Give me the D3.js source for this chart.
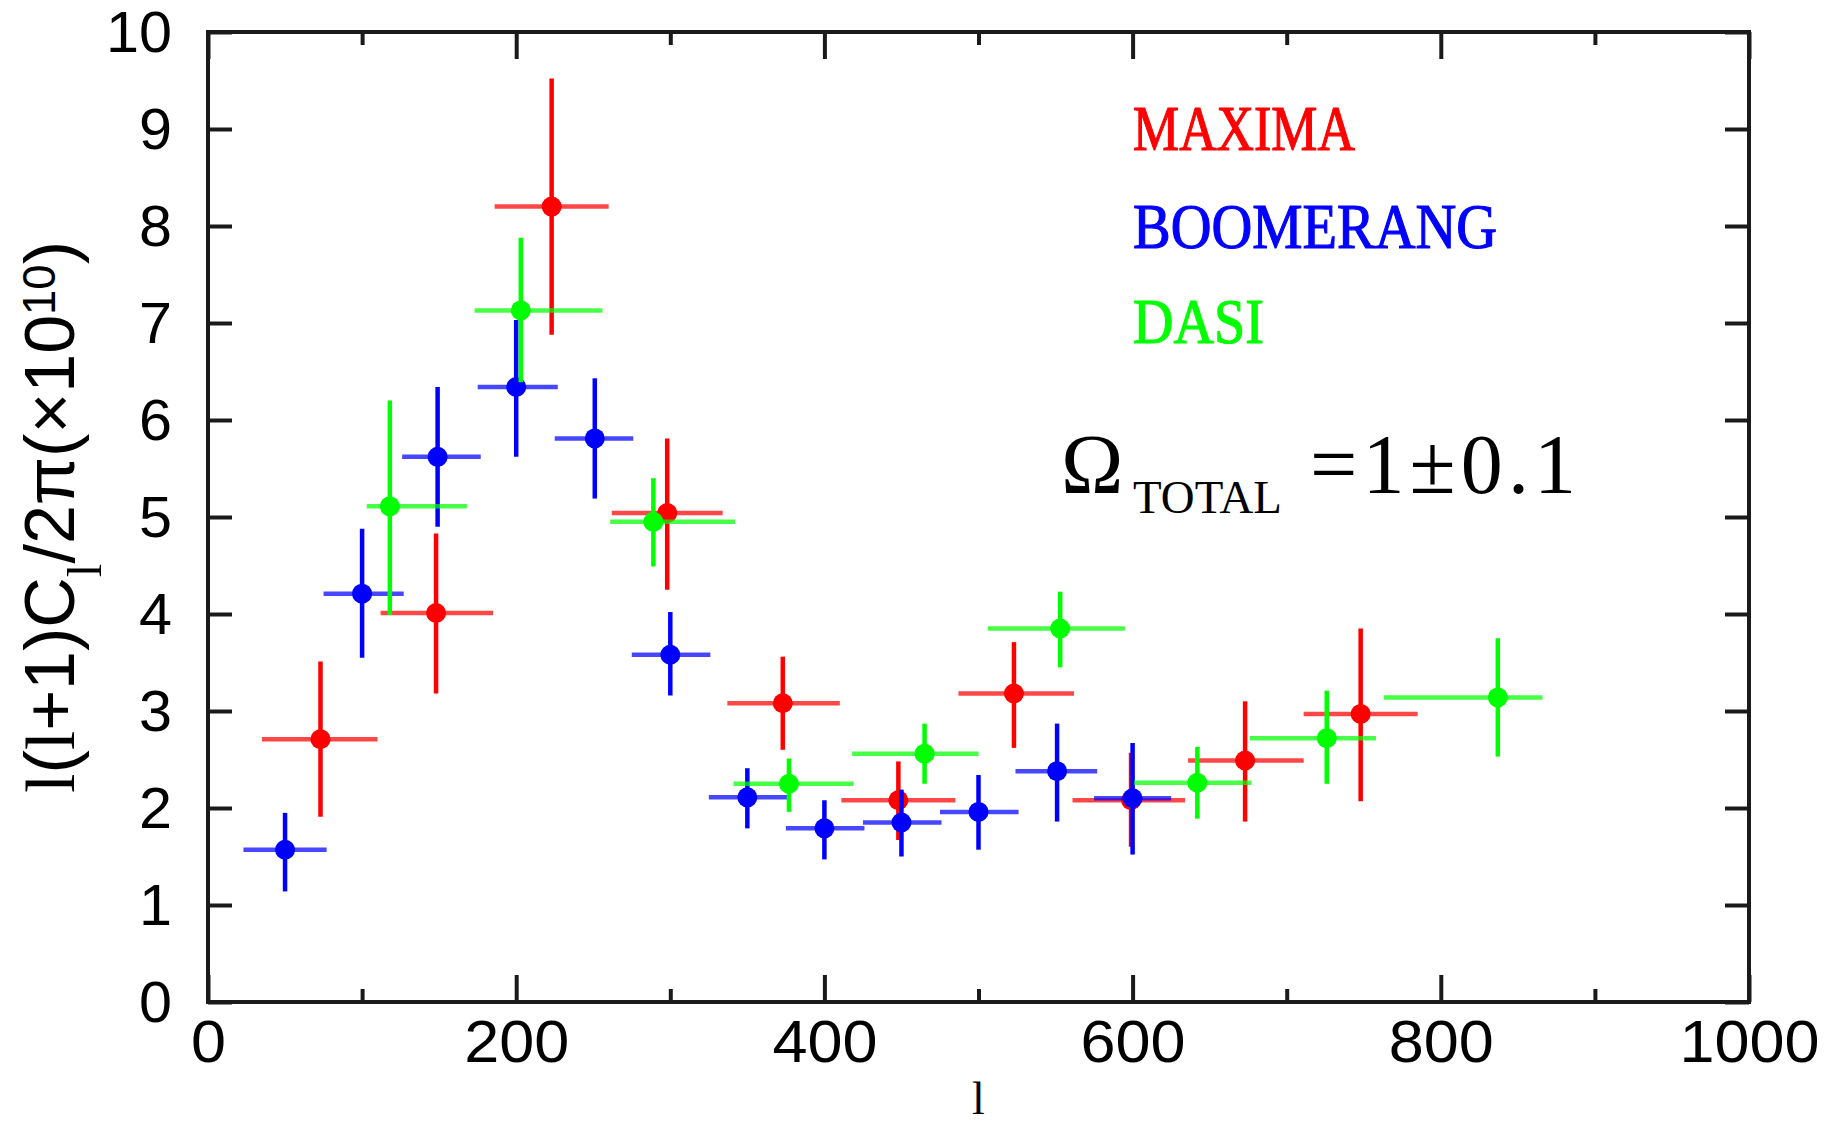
<!DOCTYPE html>
<html>
<head>
<meta charset="utf-8">
<script src="https://cdn.jsdelivr.net/npm/d3@7"></script>
<style>
  html, body { margin: 0; padding: 0; background: #ffffff; }
  svg { display: block; }
</style>
</head>
<body>
<svg id="chart" width="1829" height="1125"></svg>
<script>
// CMB angular power spectrum band powers.
// Each row: [l, l_min, l_max, value, value_min, value_max]  (value in units of 1e-10)
const maxima = [
  [73, 35, 110, 2.71, 1.91, 3.51],
  [148, 112, 185, 4.01, 3.18, 4.83],
  [223, 186, 260, 8.20, 6.88, 9.52],
  [298, 262, 334, 5.04, 4.25, 5.81],
  [373, 337, 410, 3.08, 2.60, 3.56],
  [448, 411, 485, 2.08, 1.67, 2.48],
  [523, 487, 562, 3.18, 2.62, 3.71],
  [599, 561, 634, 2.08, 1.60, 2.57],
  [673, 636, 711, 2.49, 1.86, 3.10],
  [748, 711, 785, 2.97, 2.07, 3.85]
];
const boomerang = [
  [50, 23, 77, 1.57, 1.14, 1.95],
  [100, 75, 127, 4.21, 3.55, 4.88],
  [149, 126, 177, 5.62, 4.90, 6.34],
  [200, 175, 227, 6.34, 5.62, 7.03],
  [251, 225, 276, 5.81, 5.19, 6.43],
  [300, 275, 326, 3.58, 3.16, 4.02],
  [350, 325, 376, 2.11, 1.79, 2.41],
  [400, 375, 426, 1.79, 1.47, 2.08],
  [450, 425, 476, 1.85, 1.50, 2.19],
  [500, 475, 526, 1.96, 1.57, 2.34],
  [551, 524, 577, 2.38, 1.86, 2.87],
  [600, 575, 625, 2.10, 1.52, 2.67]
];
const dasi = [
  [118, 103, 168, 5.11, 3.99, 6.20],
  [203, 173, 256, 7.13, 6.39, 7.88],
  [289, 261, 342, 4.95, 4.49, 5.40],
  [377, 341, 419, 2.25, 1.96, 2.51],
  [465, 418, 500, 2.56, 2.25, 2.87],
  [553, 506, 595, 3.85, 3.45, 4.23],
  [642, 601, 677, 2.26, 1.89, 2.63],
  [726, 676, 758, 2.72, 2.25, 3.21],
  [837, 763, 866, 3.14, 2.53, 3.75]
];
const seriesNames = ["MAXIMA", "BOOMERANG", "DASI"];
const xMajorTicks = [0, 200, 400, 600, 800, 1000];
const xMinorTicks = [100, 300, 500, 700, 900];
const yTicks = [0, 1, 2, 3, 4, 5, 6, 7, 8, 9, 10];

// ---- styling / layout ----
const seriesData = [maxima, boomerang, dasi];
const seriesColors = ["#ff0000", "#0000ff", "#00ff00"];
const W = 1829, H = 1125;
const plot = { left: 208, right: 1749, top: 32, bottom: 1002 };
const sans = "'Liberation Sans', Arial, Helvetica, sans-serif";
const serif = "'Liberation Serif', 'Times New Roman', Times, serif";
const axisColor = "#1a1a1a";

const svg = d3.select("#chart");
svg.append("rect").attr("width", W).attr("height", H).attr("fill", "#fff");

const x = d3.scaleLinear().domain([0, 1000]).range([plot.left, plot.right]);
const y = d3.scaleLinear().domain([0, 10]).range([plot.bottom, plot.top]);

function styleAxis(g, fontSize, advance) {
  g.select(".domain").remove();
  g.attr("font-size", fontSize).attr("font-family", sans);
  g.selectAll(".tick line").attr("stroke", axisColor).attr("stroke-width", 4);
  g.selectAll(".tick text")
    .attr("fill", "#000")
    .each(function () {
      const t = d3.select(this);
      const s = t.text();
      if (s.length && advance) {
        t.attr("textLength", s.length * advance).attr("lengthAdjust", "spacingAndGlyphs");
      }
    });
}

// bottom axis: major with labels, minor without
svg.append("g")
  .attr("transform", `translate(0,${plot.bottom})`)
  .call(d3.axisBottom(x).tickValues(xMajorTicks).tickSizeInner(-27).tickSizeOuter(0)
    .tickPadding(18).tickFormat(d3.format("d")))
  .call(g => styleAxis(g, 58.6, 35));
svg.append("g")
  .attr("transform", `translate(0,${plot.bottom})`)
  .call(d3.axisBottom(x).tickValues(xMinorTicks).tickSizeInner(-13).tickSizeOuter(0).tickFormat(""))
  .call(g => styleAxis(g, 10, 0));

// top axis (ticks only)
svg.append("g")
  .attr("transform", `translate(0,${plot.top})`)
  .call(d3.axisTop(x).tickValues(xMajorTicks).tickSizeInner(-27).tickSizeOuter(0).tickFormat(""))
  .call(g => styleAxis(g, 10, 0));
svg.append("g")
  .attr("transform", `translate(0,${plot.top})`)
  .call(d3.axisTop(x).tickValues(xMinorTicks).tickSizeInner(-13).tickSizeOuter(0).tickFormat(""))
  .call(g => styleAxis(g, 10, 0));

// left axis with labels
svg.append("g")
  .attr("transform", `translate(${plot.left},0)`)
  .call(d3.axisLeft(y).tickValues(yTicks).tickSizeInner(-24).tickSizeOuter(0)
    .tickPadding(36).tickFormat(d3.format("d")))
  .call(g => styleAxis(g, 57, 33))
  .call(g => g.selectAll(".tick text").attr("dy", "0.35em"));

// right axis (ticks only)
svg.append("g")
  .attr("transform", `translate(${plot.right},0)`)
  .call(d3.axisRight(y).tickValues(yTicks).tickSizeInner(-24).tickSizeOuter(0).tickFormat(""))
  .call(g => styleAxis(g, 10, 0));

// frame
svg.append("rect")
  .attr("x", x(0)).attr("y", y(10))
  .attr("width", x(1000) - x(0)).attr("height", y(0) - y(10))
  .attr("fill", "none").attr("stroke", axisColor).attr("stroke-width", 4);

// data points with error bars
seriesData.forEach((rows, i) => {
  const color = seriesColors[i];
  const g = svg.append("g").attr("class", "series-" + seriesNames[i]);
  g.selectAll("line.h").data(rows).join("line")
    .attr("class", "h")
    .attr("x1", d => x(d[1])).attr("x2", d => x(d[2]))
    .attr("y1", d => y(d[3])).attr("y2", d => y(d[3]))
    .attr("stroke", color).attr("stroke-width", 4.5).attr("stroke-opacity", 0.72);
  g.selectAll("line.v").data(rows).join("line")
    .attr("class", "v")
    .attr("x1", d => x(d[0])).attr("x2", d => x(d[0]))
    .attr("y1", d => y(d[4])).attr("y2", d => y(d[5]))
    .attr("stroke", color).attr("stroke-width", 4.5);
  g.selectAll("circle").data(rows).join("circle")
    .attr("cx", d => x(d[0])).attr("cy", d => y(d[3]))
    .attr("r", 10).attr("fill", color);
});

// legend
const legendBaselines = [150, 248, 343];
const legendWidths = [222, 364, 131];
seriesNames.forEach((name, i) => {
  svg.append("text")
    .attr("x", 1133).attr("y", legendBaselines[i])
    .attr("font-family", serif).attr("font-size", 63)
    .attr("textLength", legendWidths[i]).attr("lengthAdjust", "spacingAndGlyphs")
    .attr("fill", seriesColors[i])
    .attr("stroke", seriesColors[i]).attr("stroke-width", 1.2)
    .text(name);
});

// Omega annotation
svg.append("text")
  .attr("x", 1061).attr("y", 493)
  .attr("font-family", serif).attr("font-size", 84).attr("fill", "#000")
  .text("Ω");
svg.append("text")
  .attr("x", 1133).attr("y", 513)
  .attr("font-family", serif).attr("font-size", 47).attr("fill", "#000")
  .attr("textLength", 149).attr("lengthAdjust", "spacingAndGlyphs")
  .text("TOTAL");
svg.append("text")
  .attr("x", 1310).attr("y", 493)
  .attr("font-family", serif).attr("font-size", 84).attr("fill", "#000")
  .attr("textLength", 266).attr("lengthAdjust", "spacing")
  .text("=1±0.1");

// y-axis title
const yTitle = svg.append("text")
  .attr("transform", "translate(74,517) rotate(-90)")
  .attr("text-anchor", "middle")
  .attr("font-family", sans)
  .attr("font-size", 64)
  .attr("fill", "#000");
yTitle.append("tspan").attr("font-family", serif).text("l");
yTitle.append("tspan").text("(");
yTitle.append("tspan").attr("font-family", serif).text("l");
yTitle.append("tspan").text("+1)C");
yTitle.append("tspan").attr("font-family", serif).attr("font-size", "0.7em").attr("dy", "0.55em").text("l");
yTitle.append("tspan").attr("dy", "-0.385em").text("/2π(×10");
yTitle.append("tspan").attr("font-size", "0.65em").attr("dy", "-0.42em").text("10");
yTitle.append("tspan").attr("dy", "0.273em").text(")");
// fit the title to the span it occupies beside the axis
(function fitTitle() {
  const target = 552;
  const w = yTitle.node().getComputedTextLength();
  if (w > 0) yTitle.attr("font-size", 64 * target / w);
})();

// x-axis title
svg.append("text")
  .attr("x", (plot.left + plot.right) / 2).attr("y", 1114)
  .attr("text-anchor", "middle")
  .attr("font-family", serif).attr("font-size", 46).attr("fill", "#000")
  .text("l");
</script>
</body>
</html>
